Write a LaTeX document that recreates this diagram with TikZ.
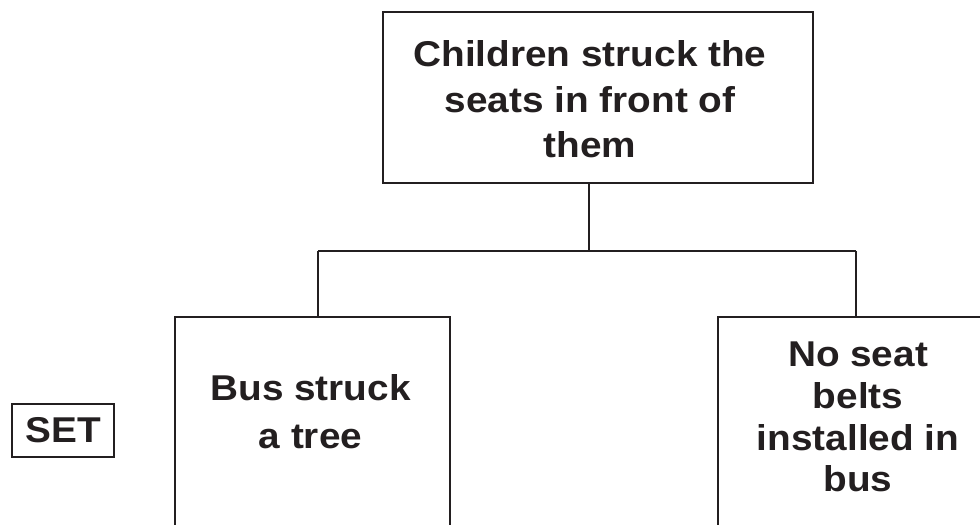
\documentclass[tikz,border=0pt]{standalone}
\usepackage{fontspec}
\setmainfont{Liberation Sans}[FakeStretch=1.08]
\definecolor{ink}{HTML}{231F20}
\begin{document}
\begin{tikzpicture}[x=1bp,y=-1bp,
  frame/.style={draw=ink,line width=2.6bp,rectangle,inner sep=0pt},
  wire/.style={draw=ink,line width=2.6bp},
  label/.style={text=ink,align=center,inner sep=0pt}]
  \useasboundingbox (0,0) rectangle (980,525);
  \clip (0,0) rectangle (980,525);

  % boxes
  \node[frame,minimum width=430bp,minimum height=171bp] (top) at (598,97.5) {};
  \node[frame,minimum width=275bp,minimum height=228bp] (left) at (312.5,431) {};
  \node[frame,minimum width=280bp,minimum height=228bp] (right) at (858,431) {};
  \node[frame,minimum width=102bp,minimum height=53bp,label,
        font=\fontsize{36}{44}\selectfont\bfseries] (set) at (63,430.5) {SET};

  % box texts
  \node[label,font=\fontsize{36}{45.5}\selectfont\bfseries] (toptext) at (590,99.5)
    {Children struck the\\seats in front of\\them};
  \node[label,font=\fontsize{36}{48}\selectfont\bfseries] (lefttext) at (310.5,412)
    {Bus struck\\a tree};
  \node[label,font=\fontsize{36}{42}\selectfont\bfseries] (righttext) at (858,417)
    {No seat\\belts\\installed in\\bus};

  % connectors
  \coordinate (hub) at (589,251);
  \coordinate (jl) at (318,251);
  \coordinate (jr) at (856,251);
  \draw[wire] (top.south -| hub) -- (hub);
  \draw[wire] (jl) -- (jr);
  \draw[wire] (jl) -- (jl |- left.north);
  \draw[wire] (jr) -- (jr |- right.north);
\end{tikzpicture}
\end{document}
